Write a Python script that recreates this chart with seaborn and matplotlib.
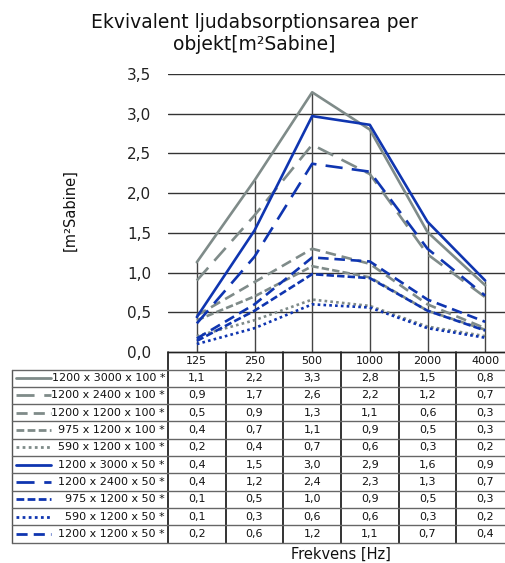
import numpy as np
import pandas as pd
import matplotlib
matplotlib.use("Agg")
import matplotlib.pyplot as plt
import seaborn as sns
from matplotlib.ticker import FuncFormatter

# data (table shows the same values rounded to one decimal)
freqs = ["125", "250", "500", "1000", "2000", "4000"]
series_names = [
    "1200 x 3000 x 100 *",
    "1200 x 2400 x 100 *",
    "1200 x 1200 x 100 *",
    "975 x 1200 x 100 *",
    "590 x 1200 x 100 *",
    "1200 x 3000 x 50 *",
    "1200 x 2400 x 50 *",
    "975 x 1200 x 50 *",
    "590 x 1200 x 50 *",
    "1200 x 1200 x 50 *",
]
s_3000_100 = [1.13, 2.16, 3.27, 2.80, 1.51, 0.84]
s_2400_100 = [0.90, 1.72, 2.61, 2.24, 1.23, 0.69]
s_1200_100 = [0.46, 0.88, 1.30, 1.11, 0.60, 0.30]
s_975_100 = [0.40, 0.70, 1.08, 0.94, 0.52, 0.28]
s_590_100 = [0.20, 0.40, 0.66, 0.58, 0.32, 0.20]
s_3000_50 = [0.44, 1.53, 2.97, 2.86, 1.64, 0.90]
s_2400_50 = [0.36, 1.20, 2.37, 2.27, 1.30, 0.71]
s_975_50 = [0.14, 0.52, 0.98, 0.93, 0.52, 0.27]
s_590_50 = [0.10, 0.30, 0.60, 0.56, 0.30, 0.18]
s_1200_50 = [0.17, 0.60, 1.19, 1.14, 0.66, 0.38]
values = [s_3000_100, s_2400_100, s_1200_100, s_975_100, s_590_100,
          s_3000_50, s_2400_50, s_975_50, s_590_50, s_1200_50]

gray = "#7f8b89"
blue = "#0f35b0"
colors = [gray] * 5 + [blue] * 5
dash_long = (6.5, 3.5)
dash_med = (4, 2.2)
dash_short = (2.8, 1.2)
dash_dot = (1, 1.2)
styles = ["", dash_long, dash_med, dash_short, dash_dot,
          "", dash_long, dash_short, dash_dot, dash_med]

rows = []
for name, vals in zip(series_names, values):
    for i, v in enumerate(vals):
        rows.append({"pos": i, "value": v, "serie": name})
df = pd.DataFrame(rows)

sns.set_style("white")
plt.rcParams["font.family"] = ["DejaVu Sans"]

W, H = 505, 563
fig = plt.figure(figsize=(W / 100, H / 100), dpi=100)

# layout in pixels
plot_left, plot_right = 168, 514
plot_top, plot_bottom = 74, 352
col_w = (plot_right - plot_left) / 6
row_h = 17.3
tab_left = 12

# overlay for the data table
tab = fig.add_axes([0, 0, 1, 1], zorder=0)
tab.set_xlim(0, W)
tab.set_ylim(H, 0)
tab.axis("off")

ax = fig.add_axes([plot_left / W, 1 - plot_bottom / H,
                   (plot_right - plot_left) / W, (plot_bottom - plot_top) / H],
                  zorder=1)
ax.patch.set_alpha(0)

# horizontal gridlines
for yv in np.arange(0.5, 3.51, 0.5):
    ax.axhline(yv, color="#333333", lw=1.0, zorder=0)

# drop lines to the highest series
top_vals = np.max(np.array(values), axis=0)
ax.vlines(range(len(freqs)), 0, top_vals, color="#444444", lw=1.0, zorder=1)

sns.lineplot(data=df, x="pos", y="value", hue="serie", style="serie",
             hue_order=series_names, style_order=series_names,
             palette=dict(zip(series_names, colors)),
             dashes=dict(zip(series_names, styles)),
             sort=False, legend=False, lw=1.9, ax=ax, zorder=3)

ax.set_xlim(-0.5, 5.5)
ax.set_ylim(0, 3.5)
ax.set_yticks(np.arange(0, 3.51, 0.5))
ax.yaxis.set_major_formatter(FuncFormatter(lambda v, p: f"{v:.1f}".replace(".", ",")))
ax.tick_params(axis="y", length=0, pad=12, labelsize=11, colors="#222222")
ax.set_xticks([])
ax.set_xlabel("")
ax.set_ylabel("")
for sp in ["left", "right", "top"]:
    ax.spines[sp].set_visible(False)
ax.spines["bottom"].set_color("#222222")
ax.spines["bottom"].set_linewidth(1.0)

# table
y0 = plot_bottom
y_header_bot = y0 + 17.5
n = len(series_names)
y_end = y_header_bot + n * row_h
# header
for i, f in enumerate(freqs):
    cx = plot_left + col_w * (i + 0.5)
    tab.text(cx, (y0 + y_header_bot) / 2, f, ha="center", va="center", fontsize=8, color="#111111")
for i in range(7):
    x = plot_left + col_w * i
    tab.plot([x, x], [y0, y_end], color="#111111", lw=1.2)
tab.plot([tab_left, tab_left], [y_header_bot, y_end], color="#555555", lw=1.0)
tab.plot([plot_left, W + 10], [y0, y0], color="#222222", lw=1.0)
for r in range(n + 1):
    yy = y_header_bot + r * row_h
    tab.plot([tab_left, W + 10], [yy, yy], color="#666666", lw=1.0)
for r, (name, vals) in enumerate(zip(series_names, values)):
    cy = y_header_bot + (r + 0.5) * row_h
    ln, = tab.plot([16, 51], [cy, cy], color=colors[r], lw=2.0)
    if styles[r] != "":
        ln.set_dashes(styles[r])
    tab.text(165, cy, name, ha="right", va="center", fontsize=8, color="#111111")
    for i, v in enumerate(vals):
        cx = plot_left + col_w * (i + 0.5)
        tab.text(cx, cy, f"{v:.1f}".replace(".", ","), ha="center", va="center",
                 fontsize=8, color="#111111")

fig.text(254 / W, 1 - 33 / H, "Ekvivalent ljudabsorptionsarea per\nobjekt[m²Sabine]",
         ha="center", va="center", fontsize=13.5, linespacing=1.2, color="#111111")
fig.text(70 / W, 1 - 210 / H, "[m²Sabine]", rotation=90, ha="center", va="center",
         fontsize=10.5, color="#111111")
fig.text(341 / W, 1 - 554 / H, "Frekvens [Hz]", ha="center", va="center",
         fontsize=10.5, color="#111111")

fig.savefig("out.png", dpi=100)
